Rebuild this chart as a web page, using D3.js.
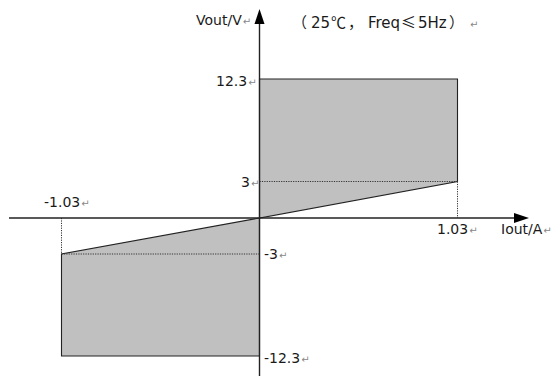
<!DOCTYPE html>
<html><head><meta charset="utf-8">
<script src="https://cdn.jsdelivr.net/npm/d3@7/dist/d3.min.js"></script>
<style>body{margin:0;background:#fff}svg{display:block}</style>
</head><body>
<script>
// Data
const currentTicks = [-1.03, 0, 1.03];
const voltageTicks = [-12.3, -3, 0, 3, 12.3];
const upperRegion = [[0,0],[0,12.3],[1.03,12.3],[1.03,3]];
const lowerRegion = [[0,0],[-1.03,-3],[-1.03,-12.3],[0,-12.3]];
const xLabels = ["-1.03","1.03"];
const yLabels = ["12.3","3","-3","-12.3"];
const xTitle = "Iout/A", yTitle = "Vout/V";
const noteParts = ["（","25","℃","，","Freq","≤","5Hz","）"];

const W=559,H=376;
const LAT="'DejaVu Sans',Verdana,sans-serif", CJK="'Noto Sans CJK SC',sans-serif";
const svg=d3.select("body").append("svg").attr("width",W).attr("height",H);
// schematic (piecewise) scales
const x=d3.scaleLinear().domain(currentTicks).range([61.5,259.5,457.5]);
const y=d3.scaleLinear().domain(voltageTicks).range([356,254,218,181.5,79]);

const line=d3.line().x(d=>x(d[0])).y(d=>y(d[1]));
[upperRegion,lowerRegion].forEach(r=>{
  svg.append("path").attr("d",line(r)+"Z").attr("fill","#c0c0c0")
    .attr("stroke","#222").attr("stroke-width",1.1);
});
// dotted guides
const dots=[[[0,3],[1.03,3]],[[1.03,3],[1.03,0]],[[-1.03,0],[-1.03,-3]],[[-1.03,-3],[0,-3]]];
dots.forEach(s=>svg.append("path").attr("d",line(s)).attr("stroke","#333")
  .attr("stroke-width",1).attr("stroke-dasharray","1.2,1.2").attr("fill","none"));

// axes
svg.append("line").attr("x1",9).attr("x2",518).attr("y1",y(0)).attr("y2",y(0)).attr("stroke","#222").attr("stroke-width",1.4);
svg.append("line").attr("x1",x(0)).attr("x2",x(0)).attr("y1",20).attr("y2",H).attr("stroke","#222").attr("stroke-width",1.4);
svg.append("path").attr("d",`M${x(0)},9 L${x(0)-5},24 L${x(0)+5},24 Z`).attr("fill","#000");
svg.append("path").attr("d",`M529,${y(0)} L514,${y(0)-5} L514,${y(0)+5} Z`).attr("fill","#000");

function ret(t){ return t.append("tspan").text("↵").attr("font-family",LAT).attr("font-size",10).attr("fill","#888").attr("dx",1); }
function label(txt,xx,yy){
  const t=svg.append("text").attr("x",xx).attr("y",yy)
    .attr("font-family",LAT).attr("font-size",14).attr("fill","#1a1a1a");
  t.append("tspan").text(txt);
  ret(t);
  return t;
}
label(yTitle,196,25);
const note=svg.append("text").attr("y",28).attr("font-size",15).attr("fill","#1a1a1a");
const noteX=[292,311,331,348,368,401,418,449];
noteParts.forEach((s,i)=>note.append("tspan").attr("x",noteX[i]).text(s)
  .attr("font-family",/[A-Za-z0-9]/.test(s)?LAT:CJK));
ret(note).attr("x",470).attr("dx",0);
label(yLabels[0],216,86);
label(yLabels[1],241,187);
label(yLabels[2],264,259);
label(yLabels[3],264,363);
label(xLabels[0],44,207);
label(xLabels[1],437,234);
label(xTitle,501,234);
</script>
</body></html>
